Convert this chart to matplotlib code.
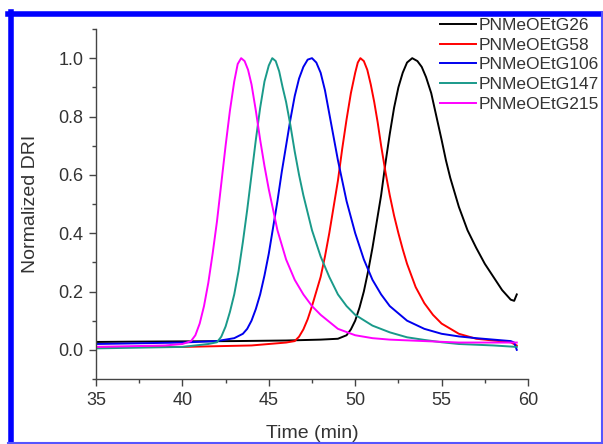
import matplotlib
matplotlib.use("Agg")
import matplotlib.pyplot as plt
from matplotlib.lines import Line2D

plt.rcParams['font.family'] = ['Liberation Sans', 'DejaVu Sans']

# GPC traces (time in min, normalized DRI)
t_g26 = [35, 37, 40, 43, 46, 48, 49, 49.5, 49.75, 50, 50.25, 50.5, 50.75, 51, 51.25,
         51.5, 51.75, 52, 52.25, 52.5, 52.75, 53, 53.3, 53.6, 53.85, 54.1, 54.4, 54.7,
         55, 55.25, 55.5, 55.75, 56, 56.5, 57, 57.5, 58, 58.5, 59, 59.2, 59.35]
v_g26 = [0.027, 0.028, 0.029, 0.030, 0.032, 0.035, 0.038, 0.05, 0.07, 0.10, 0.145, 0.20,
         0.27, 0.35, 0.44, 0.53, 0.64, 0.74, 0.83, 0.90, 0.95, 0.985, 1.0, 0.99, 0.97,
         0.935, 0.88, 0.80, 0.72, 0.65, 0.59, 0.54, 0.49, 0.41, 0.35, 0.295, 0.25, 0.205,
         0.172, 0.168, 0.19]

t_g58 = [35, 40, 44, 45, 46, 46.5, 46.75, 47, 47.25, 47.5, 47.75, 48, 48.25, 48.5,
         48.75, 49, 49.25, 49.5, 49.75, 50, 50.15, 50.3, 50.5, 50.7, 50.9, 51.1, 51.3,
         51.5, 51.75, 52, 52.25, 52.5, 52.75, 53, 53.5, 54, 54.5, 55, 56, 57, 58, 59,
         59.35]
v_g58 = [0.010, 0.010, 0.015, 0.020, 0.025, 0.03, 0.045, 0.07, 0.105, 0.15, 0.20, 0.25,
         0.32, 0.40, 0.49, 0.58, 0.69, 0.79, 0.88, 0.95, 0.985, 1.0, 0.99, 0.96, 0.91,
         0.85, 0.78, 0.70, 0.61, 0.53, 0.46, 0.40, 0.345, 0.295, 0.215, 0.16, 0.12, 0.09,
         0.055, 0.038, 0.032, 0.026, 0.015]

t_g106 = [35, 40, 42, 43, 43.5, 43.75, 44, 44.25, 44.5, 44.75, 45, 45.25, 45.5, 45.75,
          46, 46.25, 46.5, 46.75, 47, 47.25, 47.5, 47.75, 48, 48.25, 48.5, 48.75, 49,
          49.5, 50, 50.5, 51, 51.5, 52, 53, 54, 55, 56, 57, 58, 59, 59.2, 59.35]
v_g106 = [0.020, 0.025, 0.030, 0.040, 0.055, 0.072, 0.10, 0.14, 0.19, 0.255, 0.33, 0.42,
          0.51, 0.61, 0.70, 0.79, 0.87, 0.93, 0.97, 0.995, 1.0, 0.985, 0.95, 0.89, 0.81,
          0.73, 0.65, 0.51, 0.40, 0.31, 0.24, 0.19, 0.15, 0.10, 0.072, 0.055, 0.046,
          0.040, 0.035, 0.030, 0.025, 0.0]

t_g147 = [35, 40, 41.5, 42, 42.25, 42.5, 42.75, 43, 43.25, 43.5, 43.75, 44, 44.25, 44.5,
          44.75, 45, 45.2, 45.4, 45.6, 45.8, 46, 46.25, 46.5, 46.75, 47, 47.5, 48, 48.5,
          49, 49.5, 50, 51, 52, 53, 54, 55, 56, 58, 59.35]
v_g147 = [0.005, 0.010, 0.020, 0.026, 0.045, 0.08, 0.13, 0.19, 0.27, 0.37, 0.48, 0.60,
          0.72, 0.83, 0.92, 0.975, 1.0, 0.99, 0.955, 0.90, 0.85, 0.77, 0.68, 0.60, 0.53,
          0.41, 0.32, 0.25, 0.19, 0.15, 0.12, 0.083, 0.06, 0.043, 0.034, 0.026, 0.02,
          0.015, 0.01]

t_g215 = [35, 39, 40, 40.5, 40.75, 41, 41.25, 41.5, 41.75, 42, 42.25, 42.5, 42.75, 43,
          43.2, 43.4, 43.6, 43.8, 44, 44.25, 44.5, 44.75, 45, 45.5, 46, 46.5, 47, 47.5,
          48, 49, 50, 51, 52, 54, 56, 59.35]
v_g215 = [0.010, 0.015, 0.020, 0.030, 0.05, 0.09, 0.15, 0.23, 0.33, 0.44, 0.57, 0.70,
          0.82, 0.92, 0.98, 1.0, 0.99, 0.96, 0.91, 0.82, 0.72, 0.63, 0.55, 0.41, 0.31,
          0.24, 0.19, 0.15, 0.12, 0.072, 0.05, 0.04, 0.035, 0.03, 0.025, 0.025]

series = [
    ("PNMeOEtG26", t_g26, v_g26, "#000000"),
    ("PNMeOEtG58", t_g58, v_g58, "#ff0000"),
    ("PNMeOEtG106", t_g106, v_g106, "#0000ee"),
    ("PNMeOEtG147", t_g147, v_g147, "#1a9a8a"),
    ("PNMeOEtG215", t_g215, v_g215, "#ff00ff"),
]

fig = plt.figure(figsize=(6.03, 4.44), dpi=100)
ax = fig.add_axes([96 / 603, 1 - 379 / 444, 432 / 603, 350 / 444])

for name, t, v, c in series:
    ax.plot(t, v, color=c, lw=1.4, label=name)

ax.set_xlim(35, 60)
ax.set_ylim(-0.1, 1.1)
ax.set_xticks([35, 40, 45, 50, 55, 60])
ax.set_xticks([37.5, 42.5, 47.5, 52.5, 57.5], minor=True)
ax.set_yticks([0.0, 0.2, 0.4, 0.6, 0.8, 1.0])
ax.set_yticks([-0.1, 0.1, 0.3, 0.5, 0.7, 0.9, 1.1], minor=True)
ax.set_yticklabels(['0.0', '0.2', '0.4', '0.6', '0.8', '1.0'])

for s in ['top', 'right']:
    ax.spines[s].set_visible(False)
for s in ['left', 'bottom']:
    ax.spines[s].set_color('#444444')
    ax.spines[s].set_linewidth(1.0)
ax.tick_params(which='major', direction='out', length=5, width=1.0,
               color='#444444', labelsize=13, labelcolor='#333333', pad=4)
ax.tick_params(which='minor', direction='out', length=3, width=1.0, color='#444444')

ax.set_xlabel("Time (min)", fontsize=14, color='#333333', labelpad=12)
ax.set_ylabel("Normalized DRI", fontsize=14, color='#333333', labelpad=14)

leg = ax.legend(loc='upper left', bbox_to_anchor=(440 / 603, 1 - 18 / 444),
                bbox_transform=fig.transFigure, frameon=False, fontsize=12.5,
                handlelength=2.1, handletextpad=0.1, labelspacing=0.26,
                borderpad=0.0, borderaxespad=0.0)
for txt in leg.get_texts():
    txt.set_color('#333333')

# blue frame around the figure
fig.add_artist(Line2D([10.5 / 603, 10.5 / 603], [0, 1 - 12 / 444],
                      transform=fig.transFigure, color='#0000ff', lw=4))
fig.add_artist(Line2D([8 / 603, 1], [1 - 14.5 / 444, 1 - 14.5 / 444],
                      transform=fig.transFigure, color='#0000ff', lw=4))
fig.add_artist(Line2D([601.5 / 603, 601.5 / 603], [0, 1 - 12 / 444],
                      transform=fig.transFigure, color='#5555ff', lw=1.5))
fig.add_artist(Line2D([8 / 603, 1], [1.5 / 444, 1.5 / 444],
                      transform=fig.transFigure, color='#5555ff', lw=1.5))

fig.savefig("out.png", dpi=100)
